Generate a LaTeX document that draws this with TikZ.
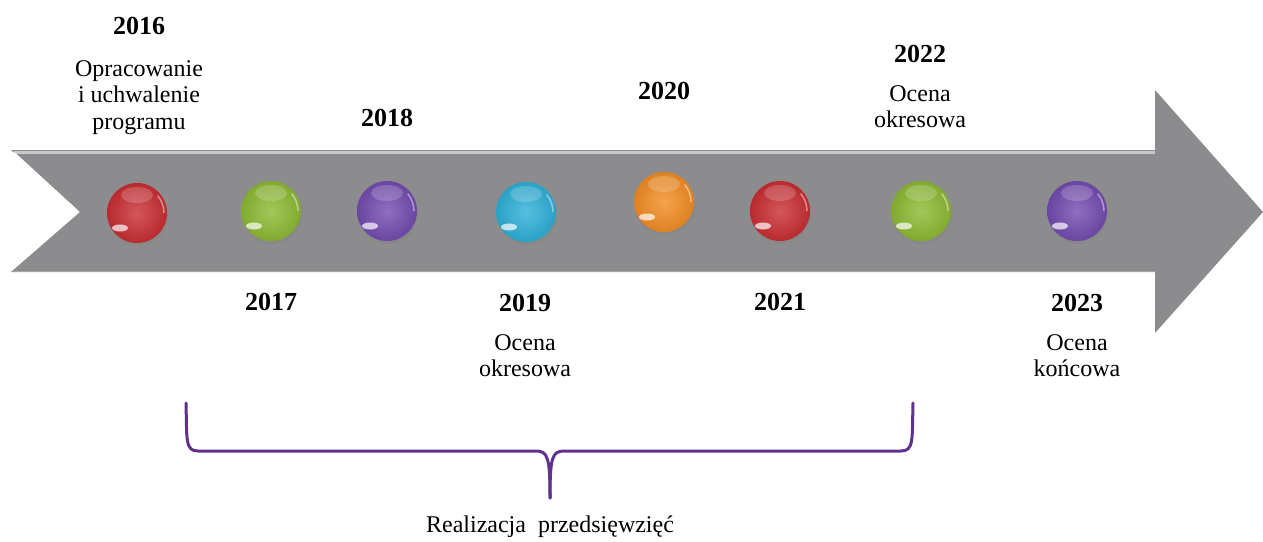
\documentclass[tikz,border=0pt]{standalone}
\usepackage{fontspec}
\setmainfont{Liberation Serif}
\usetikzlibrary{positioning,shadows}
\definecolor{shaftgray}{RGB}{140,140,142}
\definecolor{edgegray}{RGB}{200,200,202}
\definecolor{ballred}{RGB}{200,45,50}
\definecolor{ballgreen}{RGB}{140,185,50}
\definecolor{ballpurple}{RGB}{115,75,175}
\definecolor{ballcyan}{RGB}{45,175,215}
\definecolor{ballorange}{RGB}{242,140,35}
\definecolor{bracepurple}{RGB}{95,50,140}

\begin{document}
\begin{tikzpicture}[x=1pt,y=-1pt,node distance=22pt,
    ball/.style={circle,minimum size=60pt,inner sep=0pt,
      inner color=#1!80!white,outer color=#1!92!black,
      drop shadow={opacity=.3,shadow xshift=1pt,shadow yshift=-3pt},
      path picture={
        \fill[white,opacity=.18] ([yshift=-12pt]path picture bounding box.north) ellipse (16pt and 8pt);
        \fill[white,opacity=.7,rotate=40] ([xshift=13pt,yshift=15pt]path picture bounding box.south west) ellipse (8pt and 3.5pt);
        \draw[white,opacity=.45,line width=1.5pt] ([xshift=-3pt]path picture bounding box.east) arc (0:40:27pt);}},
    yr/.style={font=\bfseries\fontsize{26}{28}\selectfont,inner sep=0pt},
    lbl/.style={font=\fontsize{24}{26.5}\selectfont,align=center,inner sep=0pt},
    brace/.style={draw=bracepurple,line width=3pt,line cap=round}]
    \useasboundingbox (0,0) rectangle (1263,541);
    % timeline arrow
    \fill[shaftgray] (11,150) -- (1155,150) -- (1155,90) -- (1263,212) -- (1155,333)
      -- (1155,272) -- (11,272) -- (80,212) -- cycle;
    \draw[edgegray,line width=3pt] (14,152) -- (1155,152);
    \draw[white,line width=2pt] (14,153) -- (76,210);
    \draw[gray!70,line width=1pt] (11,271) -- (1155,271);
    % points
    \node[ball=ballred] (b16) at (137,213) {};
    \node[ball=ballgreen] (b17) at (271,211) {};
    \node[ball=ballpurple] (b18) at (387,211) {};
    \node[ball=ballcyan] (b19) at (526,212) {};
    \node[ball=ballorange] (b20) at (664,202) {};
    \node[ball=ballred] (b21) at (780,211) {};
    \node[ball=ballgreen] (b22) at (921,211) {};
    \node[ball=ballpurple] (b23) at (1077,211) {};
    % years and descriptions
    \node[yr] (y16) at (139,26) {2016};
    \node[lbl,below=25pt of y16] (t16) {Opracowanie\\i uchwalenie\\programu};
    \node[yr] (y17) at (271,302) {2017};
    \node[yr] (y18) at (387,118) {2018};
    \node[yr] (y19) at (525,303) {2019};
    \node[lbl,below=of y19] (t19) {Ocena\\okresowa};
    \node[yr] (y20) at (664,91) {2020};
    \node[yr] (y21) at (780,302) {2021};
    \node[yr] (y22) at (920,54) {2022};
    \node[lbl,below=of y22] (t22) {Ocena\\okresowa};
    \node[yr] (y23) at (1077,303) {2023};
    \node[lbl,below=of y23] (t23) {Ocena\\końcowa};
    % brace
    \coordinate (bl) at (186,403);
    \coordinate (br) at (913,403);
    \coordinate (bm) at (550,498);
    \draw[brace] (bl) .. controls (187,440) and (185,451) .. (198,451) -- (536,451)
      .. controls (548,451) and (550,458) .. (bm);
    \draw[brace] (br) .. controls (912,440) and (914,451) .. (901,451) -- (564,451)
      .. controls (552,451) and (550,458) .. (bm);
    \node[lbl,below=18pt of bm] (real) {Realizacja\ \ przedsięwzięć};
  \end{tikzpicture}
\end{document}
